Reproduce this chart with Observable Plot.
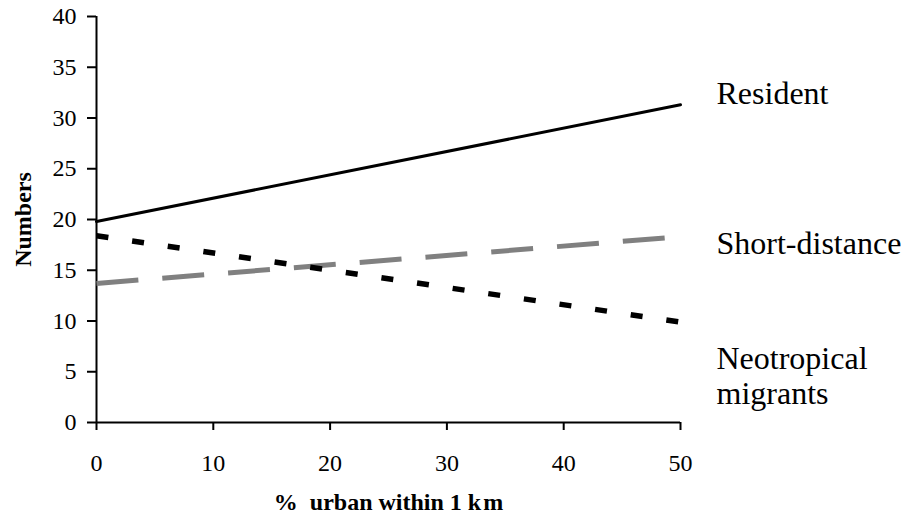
<!DOCTYPE html>
<html>
<head>
<meta charset="utf-8">
<script src="https://cdn.jsdelivr.net/npm/d3@7"></script>
<script src="https://cdn.jsdelivr.net/npm/@observablehq/plot@0.6"></script>
<style>
  html, body { margin: 0; padding: 0; background: white; }
  svg text { font-family: "Liberation Serif", "Times New Roman", serif; }
</style>
</head>
<body>
<div id="chart"></div>
<script>
// Data
const urban = [0, 50];                 // % urban within 1 km
const resident = [19.8, 31.3];
const shortDistance = [13.7, 18.3];
const neotropical = [18.4, 9.9];

const xTicks = [0, 10, 20, 30, 40, 50];
const yTicks = [0, 5, 10, 15, 20, 25, 30, 35, 40];

const xLabel = "%\u00a0 urban within 1 k\u200am";
const yLabel = "Numbers";
const seriesNames = ["Resident", "Short-distance", "Neotropical\nmigrants"];

const toRows = (vals) => urban.map((x, i) => ({x, y: vals[i]}));
const residentRows = toRows(resident);
const shortRows = toRows(shortDistance);
const neoRows = toRows(neotropical);
const endRow = (vals, name) => [{x: urban[urban.length - 1], y: vals[vals.length - 1], name}];

const serif = "'Liberation Serif', 'Times New Roman', serif";
const labelFont = {fontSize: 32, fontFamily: serif, textAnchor: "start", dx: 36, fill: "black"};

const chart = Plot.plot({
  width: 904,
  height: 517,
  marginLeft: 96,
  marginRight: 224,
  marginTop: 16,
  marginBottom: 95,
  style: {fontFamily: serif, fontSize: "24px", background: "white", color: "black", overflow: "visible"},
  x: {domain: [0, 50]},
  y: {domain: [0, 40]},
  marks: [
    Plot.axisX({ticks: xTicks, tickSize: 8, tickPadding: 23, strokeWidth: 2, fontSize: 24, fontFamily: serif, label: null}),
    Plot.axisY({ticks: yTicks, tickSize: 9, tickPadding: 11, strokeWidth: 2, fontSize: 24, fontFamily: serif, label: null}),
    Plot.ruleX([0], {y1: 0, y2: 40, strokeWidth: 2}),
    Plot.ruleY([0], {x1: 0, x2: 50, strokeWidth: 2}),
    Plot.line(residentRows, {x: "x", y: "y", stroke: "black", strokeWidth: 3}),
    Plot.line(shortRows, {x: "x", y: "y", stroke: "#808080", strokeWidth: 5, strokeDasharray: "42,24", strokeLinecap: "butt"}),
    Plot.line(neoRows, {x: "x", y: "y", stroke: "black", strokeWidth: 5.5, strokeDasharray: "12,24", strokeLinecap: "butt"}),
    Plot.text(endRow(resident, seriesNames[0]), {x: "x", y: "y", text: "name", dy: -11, ...labelFont}),
    Plot.text(endRow(shortDistance, seriesNames[1]), {x: "x", y: "y", text: "name", dy: 7, ...labelFont}),
    Plot.text(endRow(neotropical, seriesNames[2]), {x: "x", y: "y", text: "name", dy: 53, lineHeight: 1.1, ...labelFont}),
    Plot.text([xLabel], {frameAnchor: "bottom", lineAnchor: "middle", textAnchor: "middle", dy: 80, fontSize: 24, fontFamily: serif, fontWeight: "bold", fill: "black"}),
    Plot.text([yLabel], {frameAnchor: "left", lineAnchor: "middle", textAnchor: "middle", dx: -73, rotate: -90, fontSize: 24, fontFamily: serif, fontWeight: "bold", fill: "black"})
  ]
});
document.getElementById("chart").appendChild(chart);
</script>
</body>
</html>
